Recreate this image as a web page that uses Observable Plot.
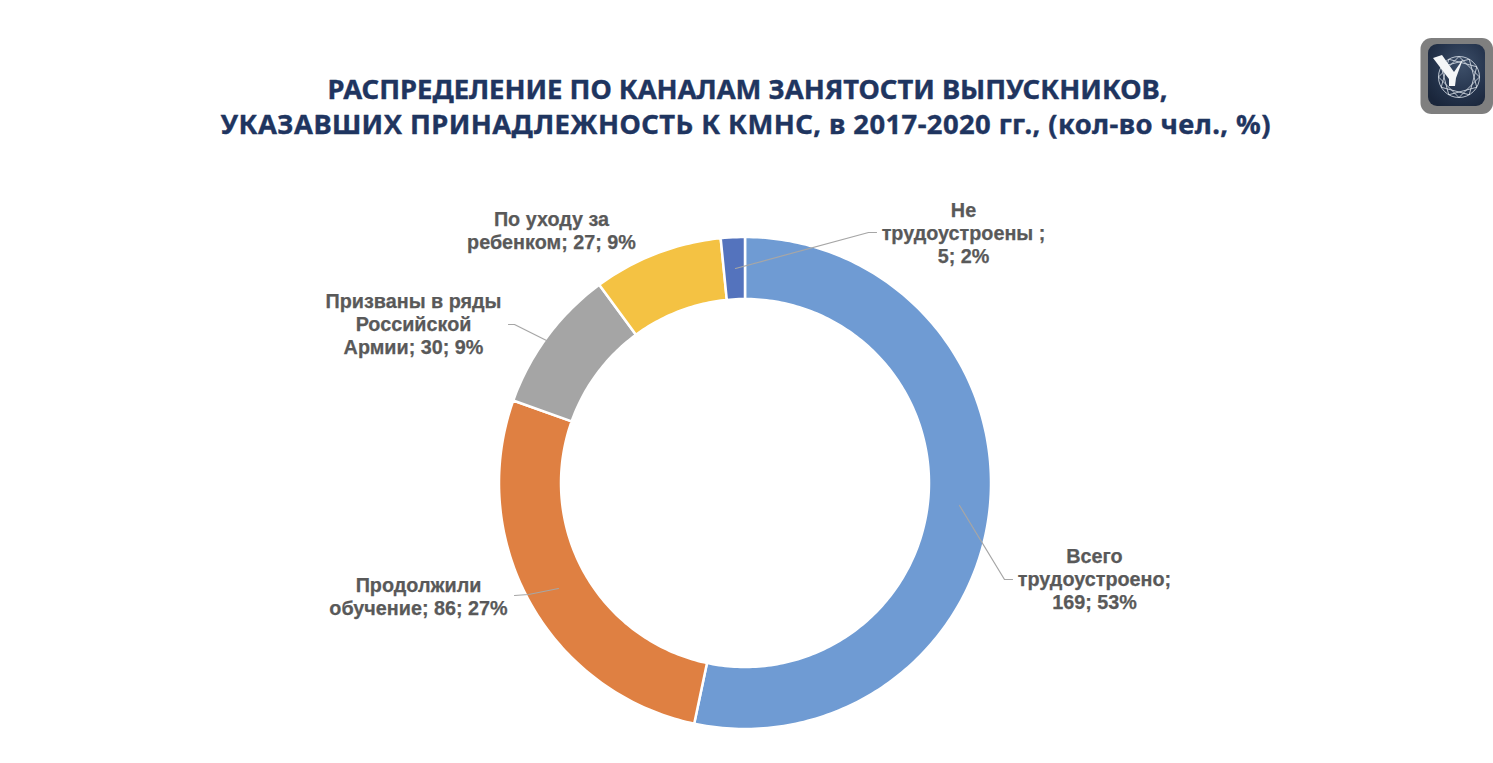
<!DOCTYPE html>
<html><head><meta charset="utf-8">
<script src="https://cdn.jsdelivr.net/npm/d3@7"></script>
<script src="https://cdn.jsdelivr.net/npm/@observablehq/plot@0.6"></script>
<style>
html,body{margin:0;padding:0;background:#fff;overflow:hidden}
#chart{position:absolute;left:0;top:0}
#logo{position:absolute;left:1420px;top:38px}
</style></head><body>
<div id="chart"></div>
<svg id="logo" width="73" height="76" viewBox="0 0 73 76">
  <defs><radialGradient id="lg" cx=".6" cy=".35" r=".75"><stop offset="0" stop-color="#3d4f69"/><stop offset=".6" stop-color="#25344d"/><stop offset="1" stop-color="#1a263b"/></radialGradient></defs>
  <rect x="0.5" y="0" width="72.5" height="76" rx="11" fill="#7f7f7f"/>
  <rect x="8" y="6" width="57" height="62" rx="9" fill="url(#lg)"/>
  <g id="gem" fill="none" stroke="#dfe6ee" stroke-width="0.8">
    <circle cx="39" cy="39" r="20.5"/>
  </g>
  <path d="M13 20 L22 17 L34 34 L43 21 L36 40 L35 48 L29 48 L29 41 Z" fill="#f4f6f8"/>
</svg>
<script>
const categories = ["Всего трудоустроено", "Продолжили обучение", "Призваны в ряды Российской Армии", "По уходу за ребенком", "Не трудоустроены"];
const counts = [169, 86, 30, 27, 5];
const percents = [53, 27, 9, 9, 2];
const colors = ["#6f9bd3", "#df8042", "#a5a5a5", "#f4c243", "#5473bd"];
const titleLines = ["РАСПРЕДЕЛЕНИЕ ПО КАНАЛАМ ЗАНЯТОСТИ ВЫПУСКНИКОВ,", "УКАЗАВШИХ ПРИНАДЛЕЖНОСТЬ К КМНС, в 2017-2020 гг., (кол-во чел., %)"];
const labelLines = [
  ["Всего", "трудоустроено;", "169; 53%"],
  ["Продолжили", "обучение; 86; 27%"],
  ["Призваны в ряды", "Российской", "Армии; 30; 9%"],
  ["По уходу за", "ребенком; 27; 9%"],
  ["Не", "трудоустроены ;", "5; 2%"]
];
// layout (page pixels)
const cx = 745, cy = 483, rOuter = 246, rInner = 184;
const labelAnchors = [[1094, 556], [418, 585], [413, 301], [551, 219], [963, 210]];
const leaders = [
  [[959, 505], [1004, 579], [1012, 579]],
  [[558, 588], [528, 594], [514, 595]],
  [[546, 340], [514, 324], [508, 324]],
  [],
  [[735, 268], [868, 232], [876, 232]]
];
const lineStep = 23;
const titleWidths = [840, 1050];

// logo facets
const gem = d3.select("#gem");
const pts = d3.range(12).map(k => [39 + 20.5 * Math.sin(k * Math.PI / 6), 39 - 20.5 * Math.cos(k * Math.PI / 6)]);
pts.forEach((p, k) => { const q = pts[(k + 3) % 12]; gem.append("line").attr("x1", p[0]).attr("y1", p[1]).attr("x2", q[0]).attr("y2", q[1]); });

const pie = d3.pie().sort(null)(counts);
const sectors = pie.flatMap((p, i) => {
  const n = Math.max(4, Math.ceil((p.endAngle - p.startAngle) * 60));
  return d3.range(n + 1).map(k => {
    const a = p.startAngle + (p.endAngle - p.startAngle) * k / n;
    return {cat: categories[i],
      x1: cx + rInner * Math.sin(a), y1: cy - rInner * Math.cos(a),
      x2: cx + rOuter * Math.sin(a), y2: cy - rOuter * Math.cos(a)};
  });
});
const textRows = labelLines.flatMap((ls, i) => ls.map((t, j) => ({t, x: labelAnchors[i][0], y: labelAnchors[i][1] + j * lineStep})));
const leaderRows = leaders.flatMap((l, i) => l.map(([x, y]) => ({i, x, y})));

const chart = Plot.plot({
  width: 1493, height: 763, margin: 0,
  x: {domain: [0, 1493], range: [0, 1493], axis: null},
  y: {domain: [0, 763], range: [0, 763], axis: null},
  color: {domain: categories, range: colors},
  style: {background: "transparent"},
  marks: [
    Plot.area(sectors, {x1: "x1", y1: "y1", x2: "x2", y2: "y2", z: "cat", fill: "cat", stroke: "#fff", strokeWidth: 2.5, curve: "linear"}),
    Plot.line(leaderRows, {x: "x", y: "y", z: "i", stroke: "#a6a6a6", strokeWidth: 1.2}),
    Plot.text(textRows, {x: "x", y: "y", text: "t", fill: "#595959", stroke: "#595959", strokeWidth: 0.25, fontSize: 19.8, fontWeight: 700, fontFamily: "Liberation Sans", textAnchor: "middle"}),
    Plot.text(titleLines, {x: [747, 745], y: [90, 125], text: d => d, fill: "#1f3560", stroke: "#1f3560", strokeWidth: 0.4, fontSize: 27.4, fontWeight: 700, fontFamily: "Noto Sans", textAnchor: "middle", className: "title-line"})
  ]
});
document.getElementById("chart").append(chart);
d3.select(chart).selectAll("g.title-line text").each(function(d, i) { this.setAttribute("textLength", titleWidths[i]); this.setAttribute("lengthAdjust", "spacing"); });
</script>
</body></html>
